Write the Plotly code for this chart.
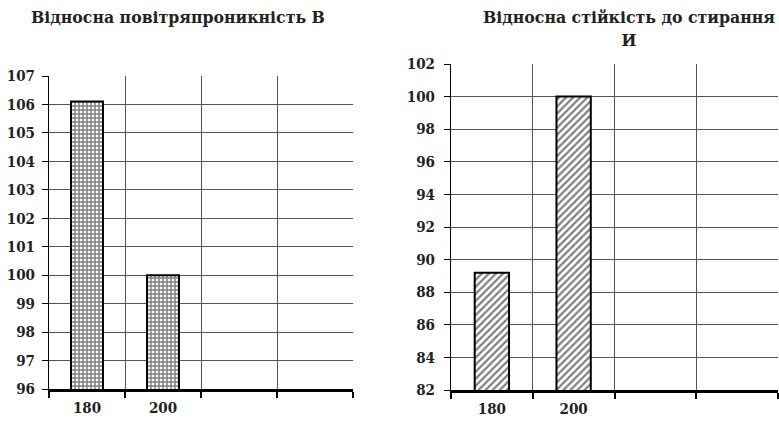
import plotly.graph_objects as go

categories = ["180", "200", " ", "  "]
bar_categories = ["180", "200"]
air_permeability = [106.1, 100.0]
abrasion_resistance = [89.2, 100.0]
title_left = "Відносна повітряпроникність В"
title_right = "Відносна стійкість до стирання<br>И"

FONT = "DejaVu Serif Condensed, DejaVu Serif, serif"

fig = go.Figure()
fig.add_trace(go.Bar(
    x=bar_categories, y=air_permeability, xaxis="x", yaxis="y",
    width=0.42,
    marker=dict(color="white", line=dict(color="black", width=2),
                pattern=dict(shape="+", size=4, solidity=0.6, fgcolor="black", bgcolor="white")),
    showlegend=False,
))
fig.add_trace(go.Bar(
    x=bar_categories, y=abrasion_resistance, xaxis="x2", yaxis="y2",
    width=0.42,
    marker=dict(color="white", line=dict(color="black", width=2),
                pattern=dict(shape="/", size=5, solidity=0.45, fgcolor="black", bgcolor="white")),
    showlegend=False,
))

W, H = 779, 422
def dom_x(a, b):
    return [a / W, b / W]
def dom_y(top, bottom):
    return [1 - bottom / H, 1 - top / H]

xcommon = dict(type="category", categoryorder="array", categoryarray=categories,
               tickson="boundaries", showgrid=True, gridcolor="#555", gridwidth=1,
               showline=True, linecolor="black", linewidth=2.5,
               ticks="outside", ticklen=6, tickwidth=2, tickcolor="black",
               tickfont=dict(family=FONT, size=15, color="#222", weight="bold"), range=[-0.5, 3.5],
               fixedrange=True, automargin=False, ticklabelstandoff=3)
ycommon = dict(showgrid=True, gridcolor="#555", gridwidth=1,
               showline=True, linecolor="black", linewidth=1,
               ticks="outside", ticklen=6, tickwidth=1, tickcolor="black",
               tickfont=dict(family=FONT, size=15, color="#222", weight="bold"), zeroline=False,
               fixedrange=True, automargin=False)

fig.update_layout(
    width=W, height=H,
    margin=dict(l=0, r=0, t=0, b=0),
    paper_bgcolor="white", plot_bgcolor="white",
    font=dict(family=FONT),
    xaxis=dict(**xcommon, domain=dom_x(49, 353), anchor="y"),
    yaxis=dict(**ycommon, domain=dom_y(76, 389), range=[96, 107], dtick=1,
               anchor="x", ticklabelstandoff=4),
    xaxis2=dict(**xcommon, domain=dom_x(451, 778), anchor="y2"),
    yaxis2=dict(**ycommon, domain=dom_y(64, 390), range=[82, 102], dtick=2,
                anchor="x2", ticklabelstandoff=6),
    annotations=[
        dict(text=title_left, x=178 / W, y=1 - 17 / H, xref="paper", yref="paper",
             showarrow=False, font=dict(family=FONT, size=17.5, color="#222", weight="bold"),
             xanchor="center", yanchor="middle"),
        dict(text=title_right, x=629 / W, y=1 - 29 / H,
             xref="paper", yref="paper", showarrow=False,
             font=dict(family=FONT, size=17.5, color="#222", weight="bold"),
             xanchor="center", yanchor="middle"),
    ],
)

fig.write_html("out.html", config={"displayModeBar": False},
               post_script="document.body.style.margin='0';")
